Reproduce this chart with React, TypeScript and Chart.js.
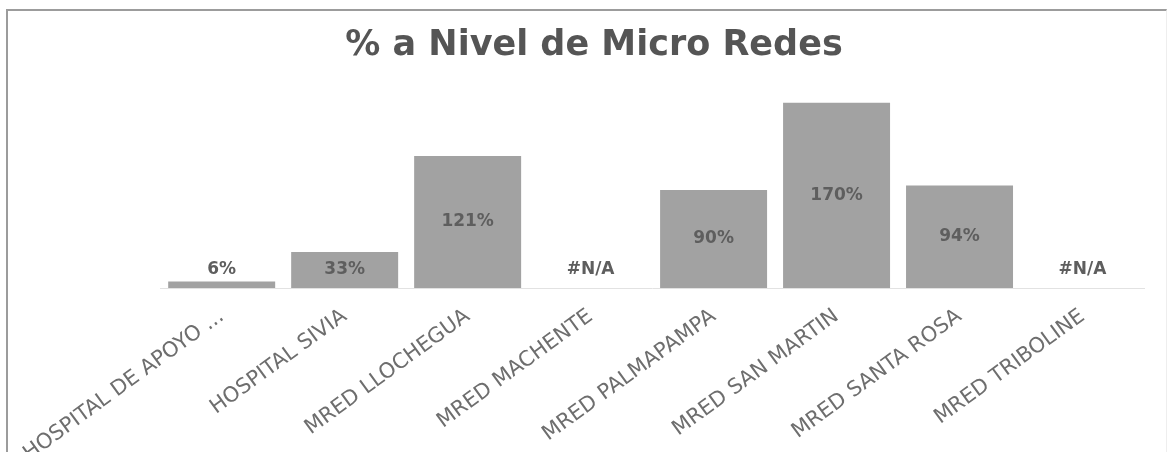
import React, { useEffect, useRef } from "react";
import { Chart, registerables } from "chart.js";

Chart.register(...registerables);

const TITLE = "% a Nivel de Micro Redes";
const categories = [
  "HOSPITAL DE APOYO ...",
  "HOSPITAL SIVIA",
  "MRED LLOCHEGUA",
  "MRED MACHENTE",
  "MRED PALMAPAMPA",
  "MRED SAN MARTIN",
  "MRED SANTA ROSA",
  "MRED TRIBOLINE",
];
const values: (number | null)[] = [6, 33, 121, null, 90, 170, 94, null];
const valueLabels = ["6%", "33%", "121%", "#N/A", "90%", "170%", "94%", "#N/A"];

const titlePlugin = {
  id: "chartTitle",
  afterDraw(chart: any) {
    const ctx = chart.ctx;
    ctx.save();
    ctx.font = "bold 35px 'DejaVu Sans'";
    ctx.fillStyle = "#555555";
    ctx.textAlign = "center";
    ctx.textBaseline = "middle";
    ctx.fillText(TITLE, 594, 46);
    ctx.restore();
  },
};

const labelPlugin = {
  id: "valueLabels",
  afterDatasetsDraw(chart: any) {
    const ctx = chart.ctx;
    const meta = chart.getDatasetMeta(0);
    const yScale = chart.scales.y;
    const xScale = chart.scales.x;
    const base = yScale.getPixelForValue(0);
    ctx.save();
    ctx.font = "bold 17px 'DejaVu Sans'";
    ctx.fillStyle = "#5e5e5e";
    ctx.textAlign = "center";
    ctx.textBaseline = "middle";
    values.forEach((v, i) => {
      const x = xScale.getPixelForValue(i);
      let y = base - 18;
      if (v !== null) {
        const el = meta.data[i];
        const mid = (el.y + base) / 2;
        y = Math.min(mid, base - 18);
      }
      ctx.fillText(valueLabels[i], x, y);
    });
    ctx.restore();
  },
};

export default function App() {
  const ref = useRef<HTMLCanvasElement | null>(null);
  useEffect(() => {
    if (!ref.current) return;
    const chart = new Chart(ref.current, {
      type: "bar",
      data: {
        labels: categories,
        datasets: [
          {
            data: values as any,
            backgroundColor: "#a2a2a2",
            borderWidth: 0,
            categoryPercentage: 1,
            barPercentage: 0.87,
          },
        ],
      },
      options: {
        responsive: false,
        animation: false,
        layout: { padding: { left: 160, right: 28, top: 70, bottom: 0 } },
        plugins: {
          legend: { display: false },
          tooltip: { enabled: false },
          title: { display: false },
        },
        scales: {
          x: {
            grid: { display: false, drawTicks: false },
            border: { display: true, color: "#e2e2e2", width: 1 },
            ticks: {
              autoSkip: false,
              minRotation: 36,
              maxRotation: 36,
              padding: 16,
              color: "#6e6e6e",
              font: { family: "'DejaVu Sans'", size: 21 },
            },
            afterFit(scale: any) {
              scale.height = 164;
            },
          },
          y: {
            display: false,
            min: 0,
            max: 200,
          },
        },
      },
      plugins: [labelPlugin, titlePlugin],
    });
    return () => chart.destroy();
  }, []);

  return (
    <div
      style={{
        position: "fixed",
        left: 0,
        top: 0,
        width: 1172,
        height: 452,
        overflow: "hidden",
        background: "#ffffff",
      }}
    >
      <div
        style={{
          position: "absolute",
          left: 6,
          top: 9,
          width: 1158,
          height: 520,
          borderTop: "2px solid #9c9c9c",
          borderLeft: "2px solid #9c9c9c",
          borderRight: "1px solid #eeeeee",
        }}
      />
      <canvas
        ref={ref}
        width={1172}
        height={452}
        style={{ position: "absolute", left: 0, top: 0 }}
      />
    </div>
  );
}
